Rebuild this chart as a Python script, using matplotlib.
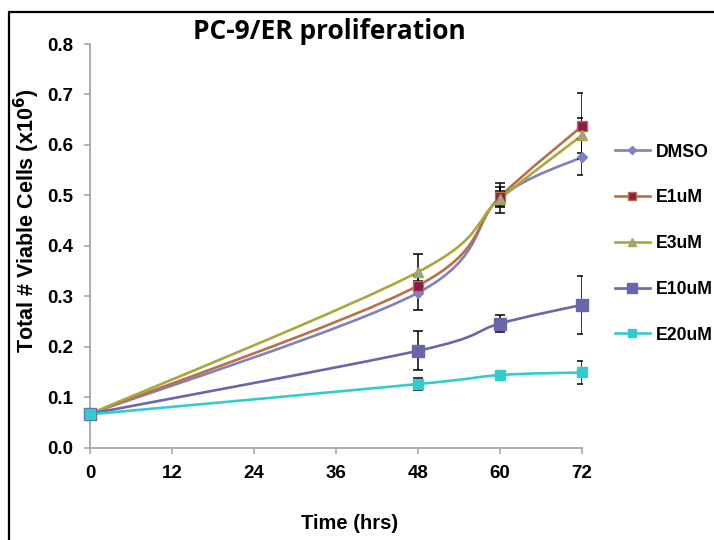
import matplotlib
matplotlib.use("Agg")
import matplotlib.pyplot as plt
import numpy as np
from matplotlib.path import Path
from matplotlib.patches import PathPatch, Rectangle
from matplotlib.lines import Line2D

plt.rcParams['font.family'] = ['Liberation Sans', 'DejaVu Sans']

# data
time_hrs = [0, 48, 60, 72]
series_names = ['DMSO', 'E1uM', 'E3uM', 'E10uM', 'E20uM']
dmso = [0.067, 0.307, 0.495, 0.576]
e1um = [0.067, 0.321, 0.497, 0.637]
e3um = [0.067, 0.348, 0.493, 0.619]
e10um = [0.067, 0.192, 0.246, 0.283]
e20um = [0.066, 0.126, 0.144, 0.149]
dmso_err = [0, 0.034, 0.030, 0.035]
e1um_err = [0, 0.010, 0.020, 0.065]
e3um_err = [0, 0.036, 0.015, 0.035]
e10um_err = [0, 0.039, 0.016, 0.057]
e20um_err = [0, 0.012, 0.005, 0.022]
x_ticks = [0, 12, 24, 36, 48, 60, 72]

values = [dmso, e1um, e3um, e10um, e20um]
errors = [dmso_err, e1um_err, e3um_err, e10um_err, e20um_err]

# style per series: line colour, marker, marker face, marker edge, size
styles = [
    ('#8080C0', 'D', '#8080C0', '#8080C0', 5.5),
    ('#B8704A', 's', '#8C1A4E', '#B8704A', 7),
    ('#A8A83C', '^', '#A0A0A0', '#A8A83C', 7.5),
    ('#6A66AA', 's', '#6A66AA', '#6A66AA', 8.5),
    ('#33CCCC', 's', '#33CCCC', '#33CCCC', 7.5),
]


def smooth_path(x, y):
    """Excel-style smoothed line as cubic Bezier segments."""
    x = np.asarray(x, float)
    y = np.asarray(y, float)
    n = len(x)
    verts = [(x[0], y[0])]
    codes = [Path.MOVETO]
    for i in range(n - 1):
        i0 = max(i - 1, 0)
        i3 = min(i + 2, n - 1)
        c1 = (x[i] + (x[i + 1] - x[i0]) / 6, y[i] + (y[i + 1] - y[i0]) / 6)
        c2 = (x[i + 1] - (x[i3] - x[i]) / 6, y[i + 1] - (y[i3] - y[i]) / 6)
        verts += [c1, c2, (x[i + 1], y[i + 1])]
        codes += [Path.CURVE4] * 3
    return Path(verts, codes)


fig = plt.figure(figsize=(7.14, 5.4), dpi=100)
ax = fig.add_axes([0.126, 0.171, 0.689, 0.7475])

handles = []
for name, vals, errs, (lc, mk, mf, me, ms) in zip(series_names, values, errors, styles):
    ax.add_patch(PathPatch(smooth_path(time_hrs, vals), fill=False,
                           edgecolor=lc, linewidth=1.9, zorder=2))
    ax.errorbar(time_hrs, vals, yerr=errs, fmt='none', ecolor='black',
                elinewidth=1.1, capsize=3.3, capthick=1.1, zorder=3)
    ax.plot(time_hrs, vals, linestyle='none', marker=mk, markersize=ms,
            markerfacecolor=mf, markeredgecolor=me, markeredgewidth=1,
            zorder=4, clip_on=False)
    handles.append(Line2D([], [], color=lc, linewidth=1.9, marker=mk,
                          markersize=ms * 0.8, markerfacecolor=mf,
                          markeredgecolor=me, label=name))

ax.set_xlim(0, 72)
ax.set_ylim(0, 0.8)
ax.set_xticks(x_ticks)
ax.set_yticks(np.arange(0, 0.81, 0.1))
ax.set_yticklabels([f'{v:.1f}' for v in np.arange(0, 0.81, 0.1)])
for s in ['top', 'right']:
    ax.spines[s].set_visible(False)
for s in ['left', 'bottom']:
    ax.spines[s].set_color('#A0A0A0')
    ax.spines[s].set_linewidth(1.2)
ax.tick_params(direction='out', length=4.5, width=1.1, color='#A0A0A0',
               labelsize=13.5)
ax.tick_params(axis='y', pad=7.5)
ax.tick_params(axis='x', pad=8)
for lbl in ax.get_xticklabels() + ax.get_yticklabels():
    lbl.set_fontweight('bold')

fig.text(0.038, 0.591, 'Total # Viable Cells (x10$^{\\mathbf{6}}$)', rotation=90,
         ha='center', va='center', fontsize=15.5, fontweight='bold')
fig.text(0.490, 0.031, 'Time (hrs)', ha='center', va='center',
         fontsize=14.5, fontweight='bold')
fig.text(0.461, 0.941, 'PC-9/ER proliferation', ha='center', va='center',
         fontsize=19, fontweight='bold', family=['Open Sans', 'DejaVu Sans'])

fig.legend(handles=handles, loc='upper left', bbox_to_anchor=(0.861, 0.734),
           frameon=False, borderpad=0, borderaxespad=0, handlelength=2.0,
           handletextpad=0.35, labelspacing=1.63,
           prop={'size': 12.7, 'weight': 'bold'})

# outer frame of the chart area (cropped at right and bottom)
fig.patches.append(Rectangle((9 / 714, -0.1), 1.2, 1.1 - 12 / 540,
                             transform=fig.transFigure, fill=False,
                             edgecolor='black', linewidth=1.6))

fig.savefig('out.png', dpi=100)
